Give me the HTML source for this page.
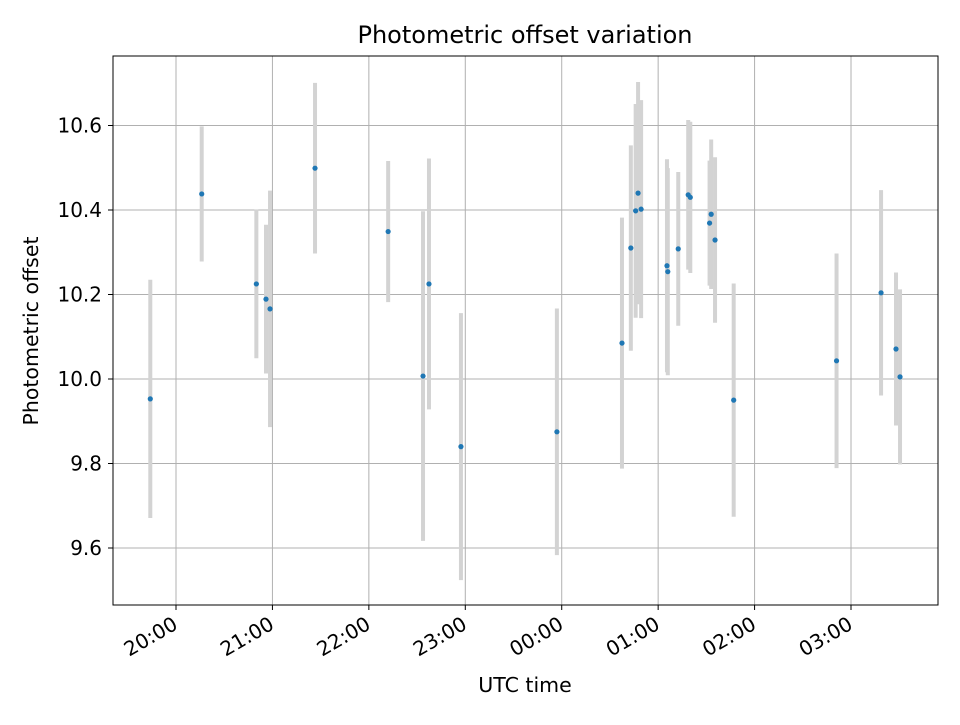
<!DOCTYPE html>
<html><head><meta charset="utf-8"><style>
body{margin:0;background:#fff;font-family:"Liberation Sans","DejaVu Sans",sans-serif}
svg text{font-family:"DejaVu Sans","Liberation Sans",sans-serif}
</style></head><body>
<svg id="chart" width="960" height="720" xmlns="http://www.w3.org/2000/svg">
<rect width="960" height="720" fill="#fff"/>
<text x="525" y="43" font-size="24" text-anchor="middle">Photometric offset variation</text>
<g id="grid"></g><g id="bars"></g><g id="points"></g>
<rect x="113" y="56" width="825" height="549" fill="none" stroke="#000" stroke-width="1"/>
<g id="ticks"></g>
<text x="525" y="692" font-size="20.5" text-anchor="middle">UTC time</text>
<text transform="translate(38,331) rotate(-90)" font-size="20.5" text-anchor="middle">Photometric offset</text>
</svg>
<script>
// minutes since 19:00 UTC
const times=[44,76,110,116,118.5,146.5,192,213.7,217.4,237.3,297,337.5,343,346,347.5,349.4,365.5,366,372.5,378.7,380,392,393,395.4,407,471,498.7,508,510.5];
const offsets=[9.953,10.438,10.225,10.189,10.166,10.499,10.349,10.007,10.225,9.84,9.875,10.085,10.31,10.398,10.44,10.402,10.268,10.254,10.308,10.436,10.43,10.369,10.39,10.329,9.95,10.043,10.204,10.071,10.005];
const errors=[0.282,0.16,0.176,0.176,0.28,0.202,0.167,0.39,0.297,0.316,0.292,0.297,0.243,0.253,0.263,0.258,0.252,0.245,0.182,0.177,0.179,0.148,0.177,0.196,0.276,0.254,0.243,0.181,0.207];
const yTicks=[9.6,9.8,10.0,10.2,10.4,10.6];
const xTickMins=[60,120,180,240,300,360,420,480];
const xTickLabels=["20:00","21:00","22:00","23:00","00:00","01:00","02:00","03:00"];
const NS="http://www.w3.org/2000/svg";
const X=m=>176+(m-60)*96.43/60;
const Y=v=>379-(v-10)*422.5;
function mk(tag,attrs,parent){const e=document.createElementNS(NS,tag);for(const k in attrs)e.setAttribute(k,attrs[k]);document.getElementById(parent).appendChild(e);return e;}
yTicks.forEach((v,i)=>{
  const g=mk('line',{x1:113,x2:938,y1:Y(v),y2:Y(v),stroke:'#b0b0b0','stroke-width':1},'grid');
  
  
  mk('line',{x1:108,x2:113,y1:Y(v),y2:Y(v),stroke:'#000'},'ticks');
  const t=mk('text',{x:102,y:Y(v)+7,'font-size':20,'text-anchor':'end'},'ticks');
  t.textContent=v.toFixed(1);
  
  
});
xTickMins.forEach((m,i)=>{
  const g=mk('line',{x1:X(m),x2:X(m),y1:56,y2:605,stroke:'#b0b0b0','stroke-width':1},'grid');
  
  
  mk('line',{x1:X(m),x2:X(m),y1:605,y2:610,stroke:'#000'},'ticks');
  const t=mk('text',{x:0,y:0,'font-size':20,'text-anchor':'end',transform:`translate(${X(m)+3},${628}) rotate(-30)`},'ticks');
  t.textContent=xTickLabels[i];
  
  
});
times.forEach((m,i)=>{
  const b=mk('line',{x1:X(m),x2:X(m),y1:Y(offsets[i]+errors[i]),y2:Y(offsets[i]-errors[i]),stroke:'#d3d3d3','stroke-width':4},'bars');
  
  
  const p=mk('circle',{cx:X(m),cy:Y(offsets[i]),r:2.6,fill:'#1f77b4'},'points');
  
  
});
</script>
</body></html>
